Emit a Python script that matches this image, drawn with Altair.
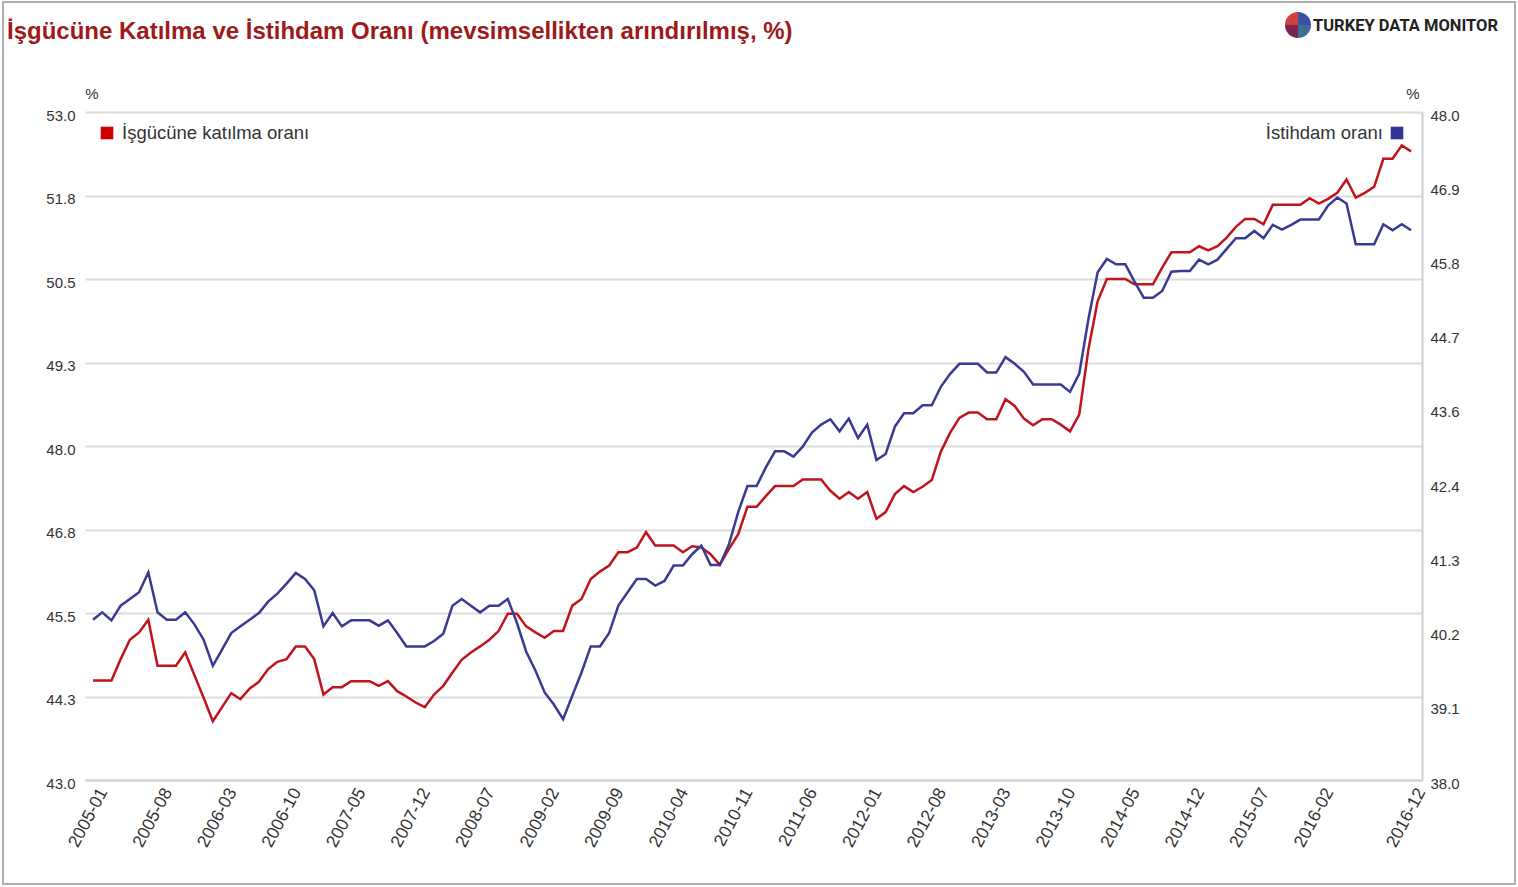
import altair as alt
import pandas as pd

months = [f"{y}-{m:02d}" for y in range(2005, 2017) for m in range(1, 13)]

participation = [
    44.49, 44.49, 44.49, 44.81, 45.10, 45.21, 45.40, 44.71, 44.71, 44.71, 44.91, 44.57,
    44.23, 43.88, 44.09, 44.30, 44.21, 44.37, 44.47, 44.66, 44.77, 44.81, 45.00, 45.00,
    44.81, 44.28, 44.39, 44.39, 44.48, 44.48, 44.48, 44.41, 44.48, 44.33, 44.25, 44.16,
    44.09, 44.28, 44.41, 44.61, 44.80, 44.91, 45.00, 45.10, 45.23, 45.49, 45.49, 45.30,
    45.21, 45.13, 45.23, 45.23, 45.61, 45.71, 46.01, 46.12, 46.21, 46.41, 46.41, 46.48,
    46.71, 46.51, 46.51, 46.51, 46.41, 46.50, 46.48, 46.38, 46.22, 46.46, 46.68, 47.09,
    47.09, 47.25, 47.40, 47.40, 47.40, 47.50, 47.50, 47.50, 47.33, 47.21, 47.31, 47.21,
    47.31, 46.91, 47.01, 47.28, 47.40, 47.31, 47.39, 47.49, 47.92, 48.20, 48.42, 48.50,
    48.50, 48.40, 48.40, 48.70, 48.60, 48.41, 48.31, 48.40, 48.40, 48.32, 48.22, 48.47,
    49.45, 50.17, 50.50, 50.50, 50.50, 50.42, 50.42, 50.42, 50.67, 50.90, 50.90, 50.90,
    50.99, 50.93, 50.99, 51.12, 51.28, 51.40, 51.40, 51.32, 51.61, 51.61, 51.61, 51.61,
    51.71, 51.63, 51.70, 51.79, 51.99, 51.72, 51.79, 51.88, 52.30, 52.30, 52.50, 52.41,
]

employment = [
    40.40, 40.51, 40.39, 40.61, 40.71, 40.81, 41.11, 40.51, 40.40, 40.40, 40.51, 40.33,
    40.10, 39.71, 39.95, 40.20, 40.30, 40.40, 40.50, 40.67, 40.79, 40.94, 41.10, 41.01,
    40.84, 40.30, 40.50, 40.30, 40.39, 40.39, 40.39, 40.31, 40.39, 40.20, 40.00, 40.00,
    40.00, 40.08, 40.19, 40.61, 40.71, 40.61, 40.51, 40.61, 40.61, 40.71, 40.35, 39.92,
    39.64, 39.31, 39.13, 38.91, 39.26, 39.61, 40.00, 40.00, 40.20, 40.61, 40.81, 41.01,
    41.01, 40.91, 40.98, 41.21, 41.21, 41.38, 41.51, 41.22, 41.22, 41.53, 42.01, 42.40,
    42.40, 42.68, 42.92, 42.92, 42.84, 42.99, 43.20, 43.32, 43.40, 43.22, 43.41, 43.12,
    43.32, 42.79, 42.88, 43.29, 43.49, 43.49, 43.61, 43.61, 43.89, 44.08, 44.23, 44.23,
    44.23, 44.10, 44.10, 44.33, 44.23, 44.11, 43.92, 43.92, 43.92, 43.92, 43.81, 44.08,
    44.90, 45.60, 45.80, 45.72, 45.72, 45.46, 45.22, 45.22, 45.32, 45.61, 45.62, 45.62,
    45.79, 45.72, 45.79, 45.95, 46.11, 46.11, 46.22, 46.11, 46.31, 46.24, 46.31, 46.39,
    46.39, 46.39, 46.60, 46.72, 46.63, 46.02, 46.02, 46.02, 46.32, 46.23, 46.32, 46.23,
]

left_ticks = [43.0, 44.25, 45.5, 46.75, 48.0, 49.25, 50.5, 51.75, 53.0]
right_ticks = [38.0, 39.111, 40.222, 41.333, 42.444, 43.556, 44.667, 45.778, 46.889, 48.0]
label_months = ["2005-01", "2005-08", "2006-03", "2006-10", "2007-05", "2007-12",
                "2008-07", "2009-02", "2009-09", "2010-04", "2010-11", "2011-06",
                "2012-01", "2012-08", "2013-03", "2013-10", "2014-05", "2014-12",
                "2015-07", "2016-02", "2016-12"]

title_text = "İşgücüne Katılma ve İstihdam Oranı (mevsimsellikten arındırılmış, %)"
legend_left = "İşgücüne katılma oranı"
legend_right = "İstihdam oranı"
logo_text = "TURKEY DATA MONITOR"
logo_shares = [25, 25, 25, 25]
logo_colors = ["#3b4fa3", "#7d2552", "#3f6e93", "#d0403f"]

RED = "#c0141c"
BLUE = "#3a3a92"
FONT = "Liberation Sans"
LABEL = "#333333"

df = pd.DataFrame({
    "i": list(range(len(months))),
    "month": months,
    "participation": participation,
    "employment": employment,
})
label_idx = [months.index(m) for m in label_months]

W, H = 1337, 668
xscale = alt.Scale(domain=[-0.87, 144.19], nice=False, zero=False)
label_expr = ("(2005 + floor(datum.value / 12)) + '-' + "
              "((datum.value % 12) < 9 ? '0' : '') + ((datum.value % 12) + 1)")

x_enc = alt.X(
    "i:Q", scale=xscale, title=None,
    axis=alt.Axis(values=label_idx, labelExpr=label_expr, labelAngle=298,
                  labelAlign="right", labelBaseline="middle", labelPadding=9,
                  labelOffset=10, labelFontSize=17.5, labelColor=LABEL,
                  labelFont=FONT, ticks=False, grid=False, domain=True,
                  domainColor="#d0d0d0", domainWidth=2, labelOverlap=False),
)

base = alt.Chart(df)

red_line = base.mark_line(color=RED, strokeWidth=2.5).encode(
    x=x_enc,
    y=alt.Y("participation:Q", title=None,
            scale=alt.Scale(domain=[43, 53], nice=False, zero=False),
            axis=alt.Axis(orient="left", values=left_ticks, format=".1f",
                          grid=True, gridColor="#dcdcdc", gridWidth=2,
                          domain=False, ticks=False, labelPadding=10,
                          labelFontSize=15, labelColor=LABEL, labelFont=FONT,
                          labelOffset=3)),
)

blue_line = base.mark_line(color=BLUE, strokeWidth=2.5).encode(
    x=x_enc,
    y=alt.Y("employment:Q", title=None,
            scale=alt.Scale(domain=[38, 48], nice=False, zero=False),
            axis=alt.Axis(orient="right", values=right_ticks, format=".1f",
                          grid=False, domain=True, domainColor="#d0d0d0",
                          domainWidth=2, ticks=False, labelPadding=8,
                          labelFontSize=15, labelColor=LABEL, labelFont=FONT,
                          labelOffset=3)),
)

one = pd.DataFrame({"k": [0]})

border = alt.Chart(one).mark_rect(fillOpacity=0, stroke="#b0b0b0", strokeWidth=2).encode(
    x=alt.value(-82), x2=alt.value(1430), y=alt.value(-110), y2=alt.value(772))

title = alt.Chart(one).mark_text(
    text=title_text, align="left", baseline="middle", font=FONT,
    fontSize=24, fontWeight="bold", color="#9c1a1a",
).encode(x=alt.value(-78), y=alt.value(-80))

logo = alt.Chart(one).mark_text(
    text=logo_text, align="left", baseline="middle", font="Roboto",
    fontSize=16.5, fontWeight="bold", color="#222222",
).encode(x=alt.value(1228), y=alt.value(-86))

pie = alt.Chart(pd.DataFrame({"share": logo_shares, "col": logo_colors})).mark_arc(
    radius=13).encode(
    theta=alt.Theta("share:Q", stack=True),
    color=alt.Color("col:N", scale=None),
    x=alt.value(1213), y=alt.value(-87))

pct_left = alt.Chart(one).mark_text(
    text="%", align="center", baseline="middle", font=FONT, fontSize=15, color=LABEL
).encode(x=alt.value(7), y=alt.value(-18))
pct_right = alt.Chart(one).mark_text(
    text="%", align="center", baseline="middle", font=FONT, fontSize=15, color=LABEL
).encode(x=alt.value(1328), y=alt.value(-18))

leg_sq_l = alt.Chart(one).mark_square(size=160, color="#cc0000", opacity=1).encode(
    x=alt.value(22), y=alt.value(21))
leg_tx_l = alt.Chart(one).mark_text(
    text=legend_left, align="left", baseline="middle", font=FONT, fontSize=18.5,
    color=LABEL).encode(x=alt.value(37), y=alt.value(21))
leg_sq_r = alt.Chart(one).mark_square(size=160, color="#333399", opacity=1).encode(
    x=alt.value(1312), y=alt.value(21))
leg_tx_r = alt.Chart(one).mark_text(
    text=legend_right, align="right", baseline="middle", font=FONT, fontSize=18.5,
    color=LABEL).encode(x=alt.value(1298), y=alt.value(21))

chart = alt.layer(
    border, red_line, blue_line, title, logo, pie, pct_left, pct_right,
    leg_sq_l, leg_tx_l, leg_sq_r, leg_tx_r,
).resolve_scale(y="independent").properties(
    width=W, height=H,
    autosize=alt.AutoSizeParams(type="none"),
    padding={"left": 85, "top": 112, "right": 96, "bottom": 107},
    background="white",
).configure_view(stroke=None)

chart.save("out.html", embed_options={"renderer": "svg", "actions": False})
